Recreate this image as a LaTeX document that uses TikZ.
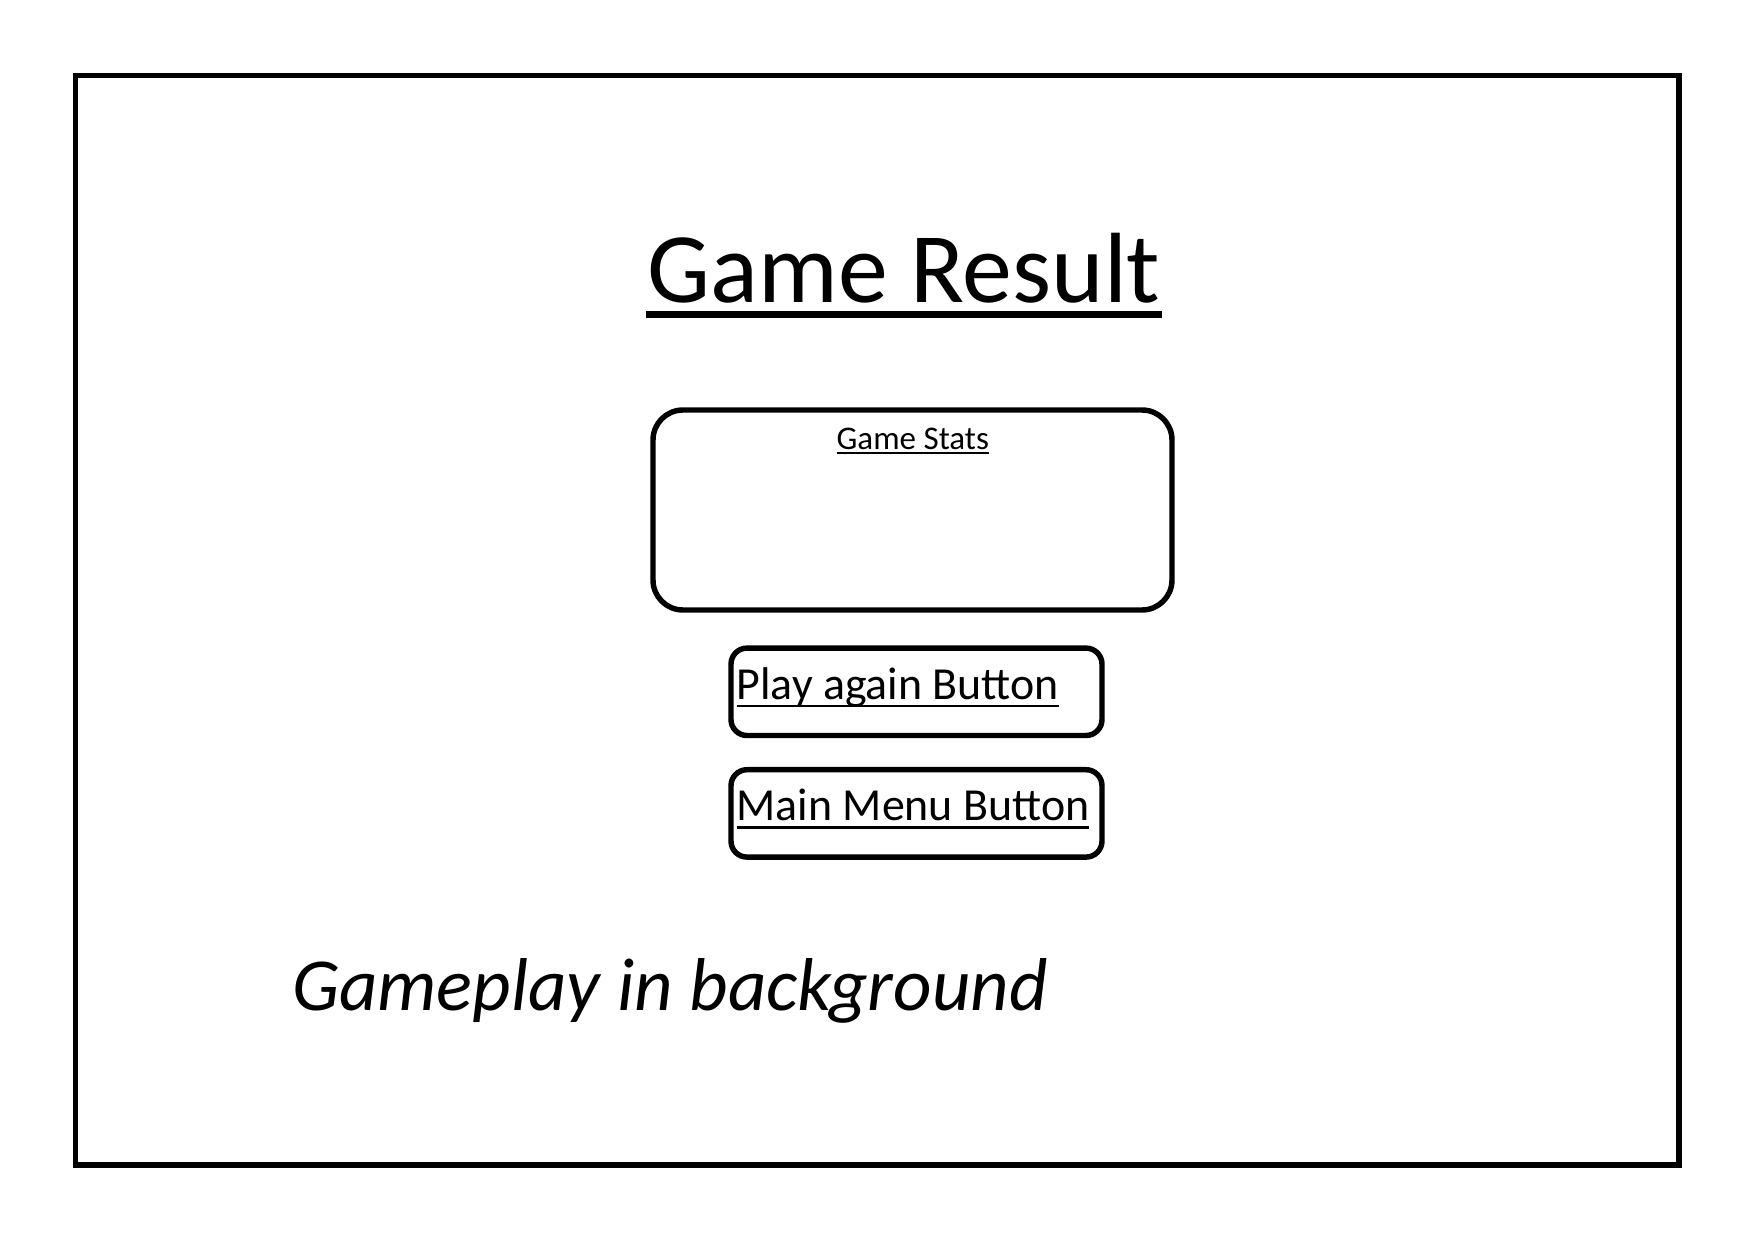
\documentclass[tikz,border=0pt]{standalone}
\usepackage{fontspec}
\setmainfont{Carlito}
\usepackage{tikz}
\usetikzlibrary{positioning}
\tikzset{
  frame/.style={draw=black,line width=1.6pt},
  panel/.style={draw=black,line width=1.55pt,rounded corners=3mm,
                minimum width=51.9mm,minimum height=20mm,inner sep=0pt},
  btn/.style={draw=black,line width=1.55pt,rounded corners=1.6mm,
              minimum width=37.1mm,minimum height=8.74mm,inner sep=0pt},
  lbl/.style={inner sep=0pt,outer sep=0pt},
  uline/.style={line width=#1,line cap=butt},
}

\begin{document}
\begin{tikzpicture}
  \useasboundingbox (0,0) rectangle (17.54,12.40);
  % screen outline
  \draw[frame] (0.755,0.750) rectangle (16.79,11.645);
  % heading
  \node[lbl,anchor=base,font=\fontsize{28.4}{32}\selectfont] (title) at (9.04,9.38) {Game Result};
  \draw[uline=2pt] ([xshift=-0.2mm,yshift=-1.25mm]title.base west) -- ([xshift=0.2mm,yshift=-1.25mm]title.base east);
  % stats panel
  \node[panel] (stats) at (9.125,7.30) {};
  \node[lbl,anchor=base,font=\fontsize{9.4}{11}\selectfont] (statsh) at (9.128,7.905) {Game Stats};
  \draw[uline=0.6pt] ([yshift=-0.34mm]statsh.base west) -- ([yshift=-0.34mm]statsh.base east);
  % buttons
  \node[btn] (play) at (9.165,5.482) {};
  \node[btn] (menu) at (9.165,4.266) {};
  \node[lbl,anchor=base west,font=\fontsize{13.05}{15}\selectfont] (playt) at (7.367,5.41) {Play again Button};
  \node[lbl,anchor=base west,font=\fontsize{13.05}{15}\selectfont] (menut) at (7.367,4.197) {Main Menu Button};
  \draw[uline=0.85pt] ([yshift=-0.7mm]playt.base west) -- ([yshift=-0.7mm]playt.base east);
  \draw[uline=0.85pt] ([yshift=-0.7mm]menut.base west) -- ([yshift=-0.7mm]menut.base east);
  % note
  \node[lbl,anchor=base west,font=\fontsize{21.3}{25}\selectfont\itshape] (note) at (2.92,2.30) {Gameplay in background};
\end{tikzpicture}
\end{document}
